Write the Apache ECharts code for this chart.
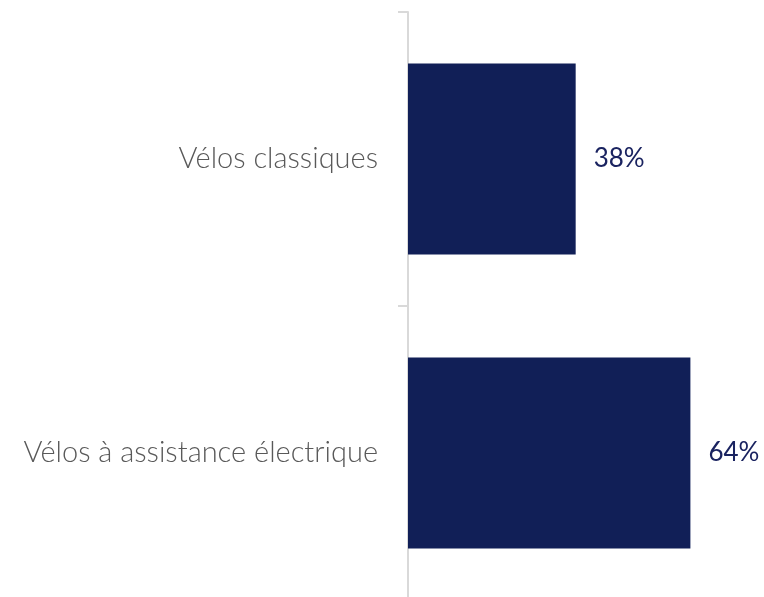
<!DOCTYPE html>
<html>
<head>
	<meta charset="utf-8">
	<title></title>
	<script src="https://cdn.jsdelivr.net/npm/echarts@6/dist/echarts.min.js"></script>
	<style>
		html, body { margin: 0; padding: 0; background: #fff; }
		#box_1 { width: 764px; height: 597px; }
	</style>
</head>
<body>
	<div id="box_1"></div>
<script>
	var categories = ['Vélos classiques', 'Vélos à assistance électrique']
	var valueList = [38, 64]

	var myChart = echarts.init(document.getElementById('box_1'));
	var option = {
		animation: false,
		grid: {
			left: 408,
			right: 3,
			top: 12,
			bottom: -3,
			outerBoundsMode: 'none'
		},
		xAxis: {
			type: 'value',
			min: 0,
			max: 80,
			show: false
		},
		yAxis: {
			type: 'category',
			data: categories,
			inverse: true,
			axisLine: {
				show: true,
				lineStyle: { color: '#d9d9d9', width: 2 }
			},
			axisTick: {
				show: true,
				length: 10,
				lineStyle: { color: '#d9d9d9', width: 2 }
			},
			axisLabel: {
				margin: 30,
				color: '#595959',
				fontSize: 29,
				fontWeight: 300,
				fontFamily: 'Lato, "Open Sans", sans-serif'
			}
		},
		series: [
			{
				type: 'bar',
				data: valueList,
				barCategoryGap: '35%',
				itemStyle: { color: '#111f57' },
				label: {
					show: true,
					position: 'right',
					distance: 18,
					formatter: '{c}%',
					color: '#1a2360',
					fontSize: 26,
					fontFamily: 'Lato, "Open Sans", sans-serif'
				}
			}
		]
	}
	myChart.setOption(option);
</script>
</body>
</html>
